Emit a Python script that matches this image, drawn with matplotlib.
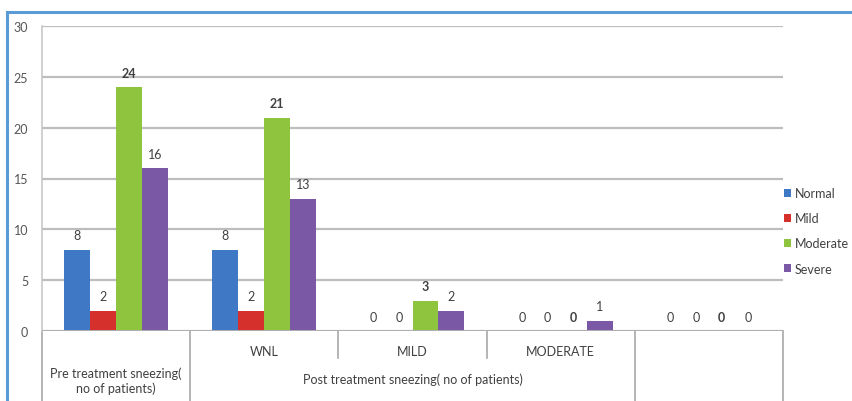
import matplotlib.pyplot as plt
import numpy as np
from matplotlib.patches import Rectangle
from matplotlib.transforms import blended_transform_factory

plt.rcParams['font.family'] = ['Lato', 'DejaVu Sans']

# sneezing severity counts, per time point
groups = ["", "WNL", "MILD", "MODERATE", ""]
series = ["Normal", "Mild", "Moderate", "Severe"]
normal = [8, 8, 0, 0, 0]
mild = [2, 2, 0, 0, 0]
moderate = [24, 21, 3, 0, 0]
severe = [16, 13, 2, 1, 0]
yticks = [0, 5, 10, 15, 20, 25, 30]

colors = ["#3F79C6", "#D6302C", "#8FC43F", "#7A58A6"]
values = [normal, mild, moderate, severe]
fs = 9

fig = plt.figure(figsize=(8.52, 4.02), dpi=100)
ax = fig.add_axes([42 / 852, 70 / 402, 741 / 852, 305 / 402])

x = np.arange(len(groups))
bw = 0.175
for i, (name, vals, c) in enumerate(zip(series, values, colors)):
    pos = x + (i - 1.5) * bw
    ax.bar(pos, vals, width=bw, color=c, label=name, zorder=3)
    for px, v in zip(pos, vals):
        ax.annotate(str(v), (px, v), xytext=(0, 6), textcoords="offset points",
                    ha="center", va="bottom", fontsize=fs, color="#404040",
                    fontweight="bold" if name == "Moderate" else "normal")

ax.set_xlim(-0.5, 4.5)
ax.set_ylim(0, 30)
ax.set_yticks(yticks)
ax.set_yticklabels([str(t) for t in yticks], fontsize=fs, color="#555555")
ax.tick_params(axis="y", length=0, pad=10)
ax.set_xticks([])
ax.grid(axis="y", color="#BDBDBD", linewidth=1.6, zorder=0)
for s in ["top", "right", "bottom"]:
    ax.spines[s].set_visible(False)
ax.spines["left"].set_color("#C8C8C8")
ax.spines["left"].set_linewidth(1.2)
ax.axhline(0, color="#B0B0B0", linewidth=1.4, zorder=4)

# two-level category axis drawn below the plot
tr = blended_transform_factory(ax.transData, ax.transAxes)
line_kw = dict(transform=tr, clip_on=False, color="#A8A8A8", linewidth=1.2)
for b in [-0.5, 0.5, 3.5, 4.5]:
    ax.plot([b, b], [0, -0.24], **line_kw)
for b in [1.5, 2.5]:
    ax.plot([b, b], [0, -0.09], **line_kw)

for xi, g in zip(x, groups):
    if g:
        ax.text(xi, -0.066, g, transform=tr, ha="center", va="center",
                fontsize=fs, color="#404040")
ax.text(0, -0.162, "Pre treatment sneezing(\nno of patients)", transform=tr,
        ha="center", va="center", fontsize=fs, color="#404040", linespacing=1.2)
ax.text(2, -0.155, "Post treatment sneezing( no of patients)", transform=tr,
        ha="center", va="center", fontsize=fs, color="#404040")

leg = ax.legend(loc="upper left", bbox_to_anchor=(0.995, 0.488), frameon=False,
                fontsize=fs, handlelength=0.55, handleheight=0.55,
                handletextpad=0.3, labelspacing=1.05, borderaxespad=0)
for t in leg.get_texts():
    t.set_color("#404040")

# chart frame
fig.patches.append(Rectangle((7 / 852, -0.02), 1.0, 1 - 13 / 402 + 0.02,
                             transform=fig.transFigure, fill=False,
                             edgecolor="#5B9BD5", linewidth=2.2))

fig.savefig("out.png", dpi=100)
